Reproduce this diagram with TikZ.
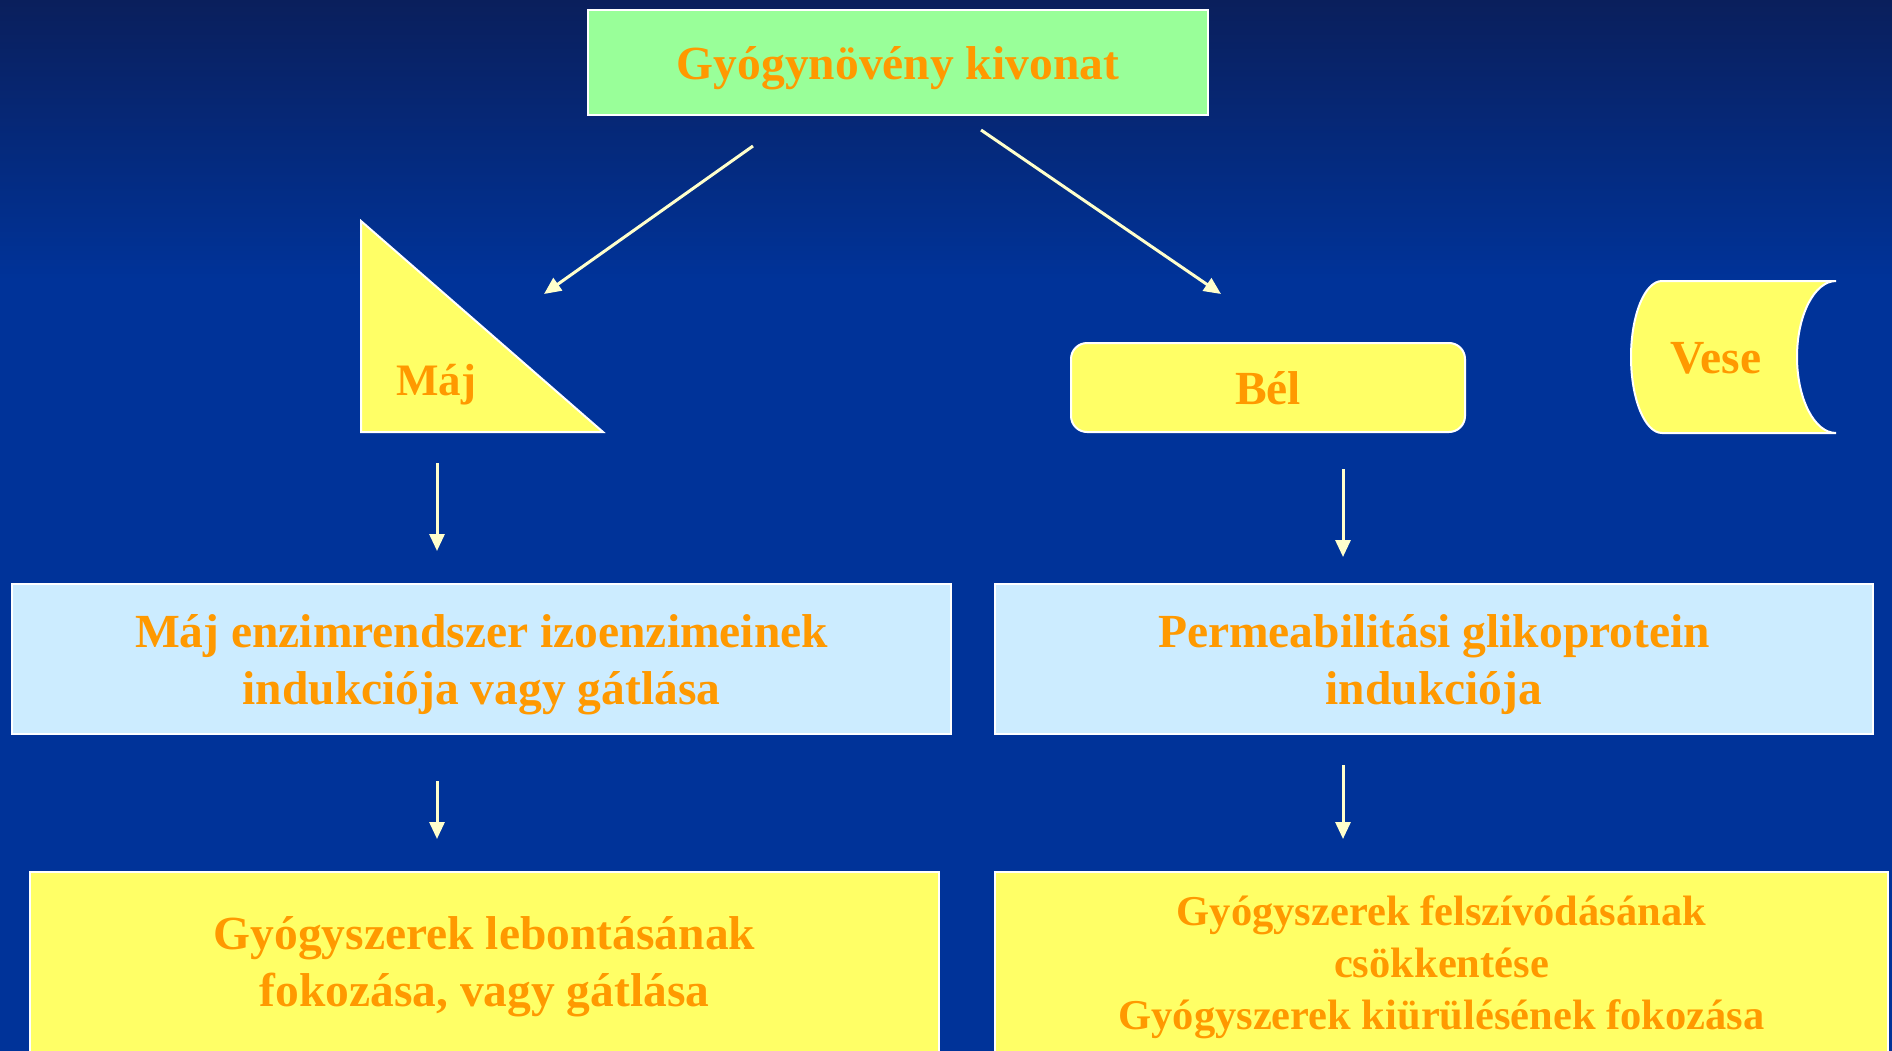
\documentclass[tikz,border=0pt]{standalone}
\usepackage{fontspec}
\setmainfont{Liberation Serif}
\usetikzlibrary{arrows.meta}
\definecolor{bgblue}{HTML}{003399}
\definecolor{bgtop}{HTML}{0A1F5C}
\definecolor{txtorange}{HTML}{FF9900}
\definecolor{boxgreen}{HTML}{99FF99}
\definecolor{boxlblue}{HTML}{CCECFF}
\definecolor{boxyellow}{HTML}{FFFF66}
\definecolor{arrowc}{HTML}{FFFFCC}
\begin{document}
\begin{tikzpicture}[x=1pt,y=1pt,
  lbl/.style={text=txtorange, font=\bfseries\fontsize{47.5}{57}\selectfont, align=center, inner sep=0pt},
  lblsmall/.style={text=txtorange, font=\bfseries\fontsize{42.5}{52}\selectfont, align=center, inner sep=0pt},
  boxline/.style={draw=white, line width=2pt},
  arr/.style={draw=arrowc, line width=3pt, -{Triangle[width=15pt,length=17pt]}}]
\useasboundingbox (0,0) rectangle (1892,-1051);
\clip (0,0) rectangle (1892,-1051);
% background
\fill[bgblue] (0,0) rectangle (1892,-1051);
\shade[top color=bgtop, bottom color=bgblue] (0,0) rectangle (1892,-280);

% top box
\node[boxline, fill=boxgreen, minimum width=620pt, minimum height=105pt, inner sep=0pt] (top) at (898,-62.5) {};
\node[lbl] (toptxt) at (898,-68) {Gyógynövény kivonat};

% triangle Máj
\filldraw[boxline, fill=boxyellow, line join=miter] (361,-221) -- (361,-432) -- (603,-432) -- cycle;
\node[lbl, font=\bfseries\fontsize{45}{52}\selectfont] (maj) at (436,-385) {Máj};

% Bél
\node[boxline, fill=boxyellow, rounded corners=16pt, minimum width=394pt, minimum height=89pt] (bel) at (1268,-387.5) {};
\node[lbl] (beltxt) at (1268,-388) {Bél};

% Vese
\filldraw[boxline, fill=boxyellow] (1662,-281) -- (1836,-281)
  arc[start angle=90, end angle=270, x radius=39, y radius=76]
  -- (1662,-433)
  arc[start angle=270, end angle=90, x radius=31, y radius=76] -- cycle;
\node[lbl] (vese) at (1716,-358) {Vese};

% blue boxes
\node[boxline, fill=boxlblue, minimum width=939pt, minimum height=150pt] (lb) at (481.5,-659) {};
\node[lbl] (lbtxt) at (481.5,-665) {Máj enzimrendszer izoenzimeinek\\indukciója vagy gátlása};
\node[boxline, fill=boxlblue, minimum width=878pt, minimum height=150pt] (rb) at (1434,-659) {};
\node[lbl] (rbtxt) at (1434,-665) {Permeabilitási glikoprotein\\indukciója};

% bottom boxes
\node[boxline, fill=boxyellow, minimum width=909pt, minimum height=300pt, anchor=north] (ly) at (484.5,-871) {};
\node[lbl] (lytxt) at (484.5,-967) {Gyógyszerek lebontásának\\fokozása, vagy gátlása};
\node[boxline, fill=boxyellow, minimum width=893pt, minimum height=300pt, anchor=north] (ry) at (1441.5,-871) {};
\node[lblsmall] (rytxt) at (1441.5,-967) {Gyógyszerek felszívódásának\\csökkentése\\Gyógyszerek kiürülésének fokozása};

% arrow coordinates
\coordinate (a1s) at (753,-146); \coordinate (a1e) at (544,-294);
\coordinate (a2s) at (981,-130); \coordinate (a2e) at (1221,-294);
\coordinate (a3s) at (437,-463); \coordinate (a3e) at (437,-551);
\coordinate (a4s) at (1343,-469); \coordinate (a4e) at (1343,-557);
\coordinate (a5s) at (437,-781); \coordinate (a5e) at (437,-839);
\coordinate (a6s) at (1343,-765); \coordinate (a6e) at (1343,-839);
\draw[arr] (a1s) -- (a1e);
\draw[arr] (a2s) -- (a2e);
\draw[arr] (a3s) -- (a3e);
\draw[arr] (a4s) -- (a4e);
\draw[arr] (a5s) -- (a5e);
\draw[arr] (a6s) -- (a6e);
\end{tikzpicture}
\end{document}
